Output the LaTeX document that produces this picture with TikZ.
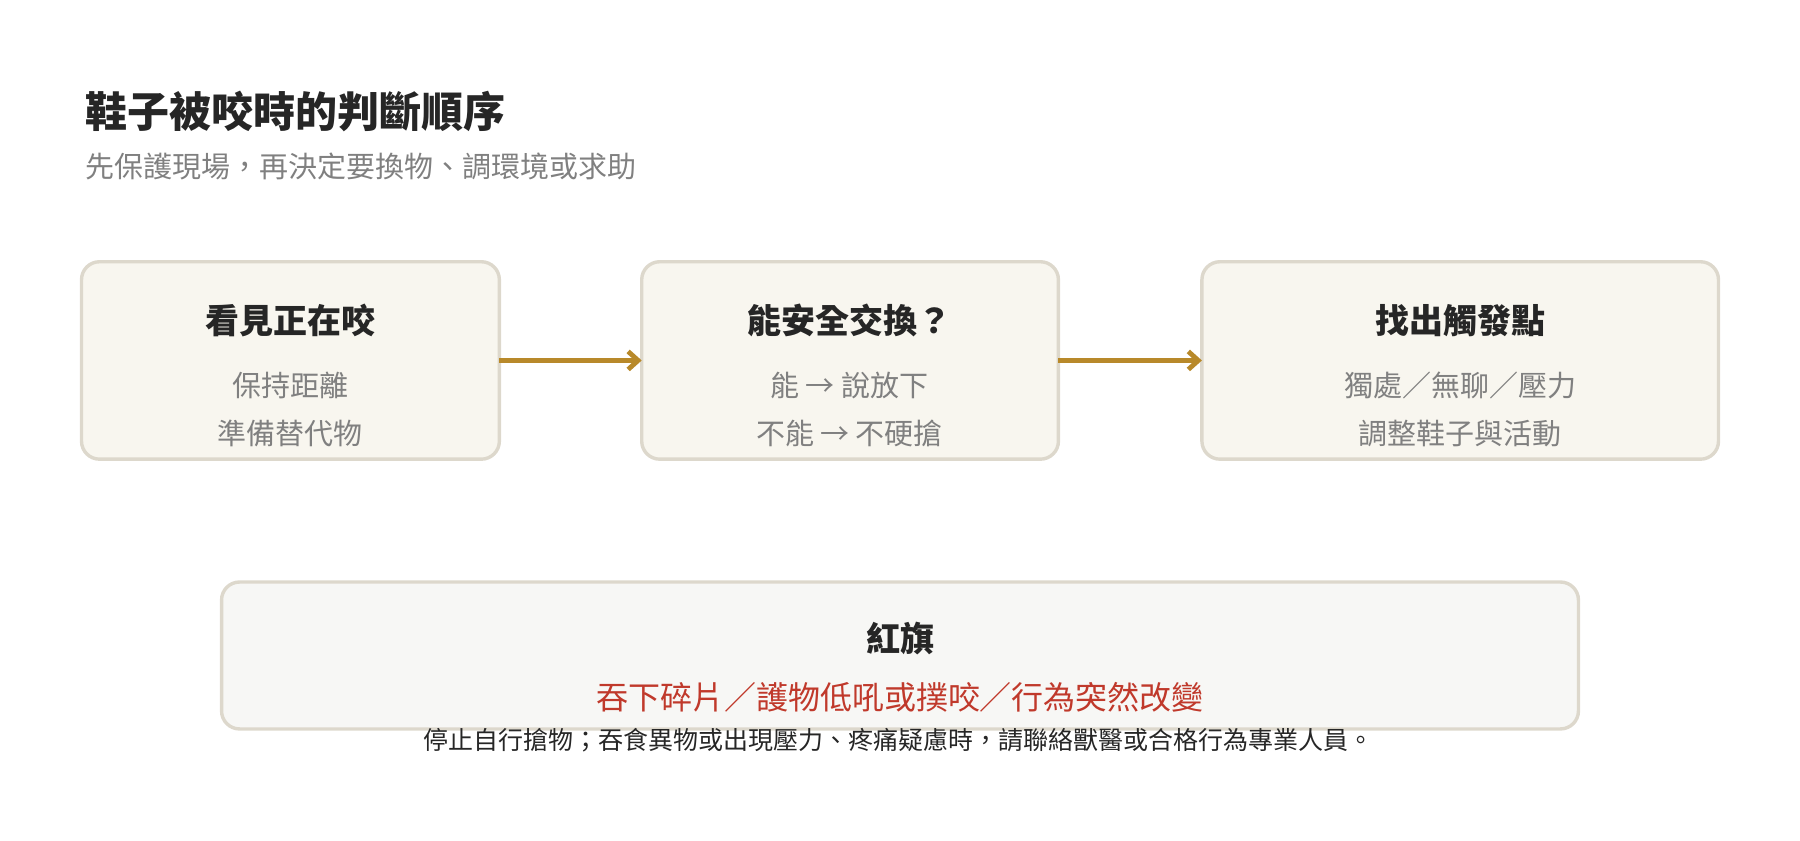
\documentclass[tikz,border=0pt]{standalone}
\usepackage{fontspec}
\setmainfont{Noto Sans CJK TC}
\usetikzlibrary{positioning,arrows.meta}
\definecolor{boxfill}{HTML}{F8F6EF}
\definecolor{boxline}{HTML}{DDD8CC}
\definecolor{flagfill}{HTML}{F7F7F5}
\definecolor{gold}{HTML}{B8892A}
\definecolor{flagred}{HTML}{C0392B}
\definecolor{subgray}{HTML}{808080}
\tikzset{
  stepbox/.style={draw=boxline, line width=1.7pt, fill=boxfill, rounded corners=9pt},
  head/.style={font=\fontsize{17}{20}\selectfont\bfseries, text=black!85},
  body/.style={font=\fontsize{14.5}{24}\selectfont, text=subgray, align=center},
  flow/.style={draw=gold, line width=2.4pt, -{Straight Barb[length=5pt,width=9pt]}},
}
\begin{document}
\begin{tikzpicture}[x=0.574pt, y=-0.574pt]
	\useasboundingbox (0,0) rectangle (1568,732);
	\node[anchor=west, font=\fontsize{21}{24}\selectfont\bfseries, text=black!85] (title) at (68,97) {鞋子被咬時的判斷順序};
	\node[anchor=west, font=\fontsize{14.5}{18}\selectfont, text=subgray] (sub) at (68,145) {先保護現場，再決定要換物、調環境或求助};
	% steps
	\draw[stepbox] (71,228) rectangle (435,400); % see
	\draw[stepbox] (559,228) rectangle (922,400); % swap
	\draw[stepbox] (1047,228) rectangle (1497,400); % trigger
	\coordinate (see e) at (435,314);
	\coordinate (swap w) at (559,314);
	\coordinate (swap e) at (922,314);
	\coordinate (trig w) at (1047,314);
	\node[head] (seeH) at (253,279) {看見正在咬};
	\node[body] (seeB) at (253,357) {保持距離\\準備替代物};
	\node[head] (swapH) at (740,279) {能安全交換？};
	\node[body] (swapB) at (740,357) {能 → 說放下\\不能 → 不硬搶};
	\node[head] (trigH) at (1272,279) {找出觸發點};
	\node[body] (trigB) at (1272,357) {獨處／無聊／壓力\\調整鞋子與活動};
	\draw[flow] (see e) -- (swap w);
	\draw[flow] (swap e) -- (trig w);
	% red flag
	\draw[stepbox, fill=flagfill] (193,507) rectangle (1375,635);
	\node[head] (flagH) at (784,556) {紅旗};
	\node[font=\fontsize{16}{20}\selectfont, text=flagred] (flagB) at (784,607) {吞下碎片／護物低吼或撲咬／行為突然改變};
	\node[font=\fontsize{12.5}{16}\selectfont, text=black!85] (note) at (783,645) {停止自行搶物；吞食異物或出現壓力、疼痛疑慮時，請聯絡獸醫或合格行為專業人員。};
\end{tikzpicture}
\end{document}
